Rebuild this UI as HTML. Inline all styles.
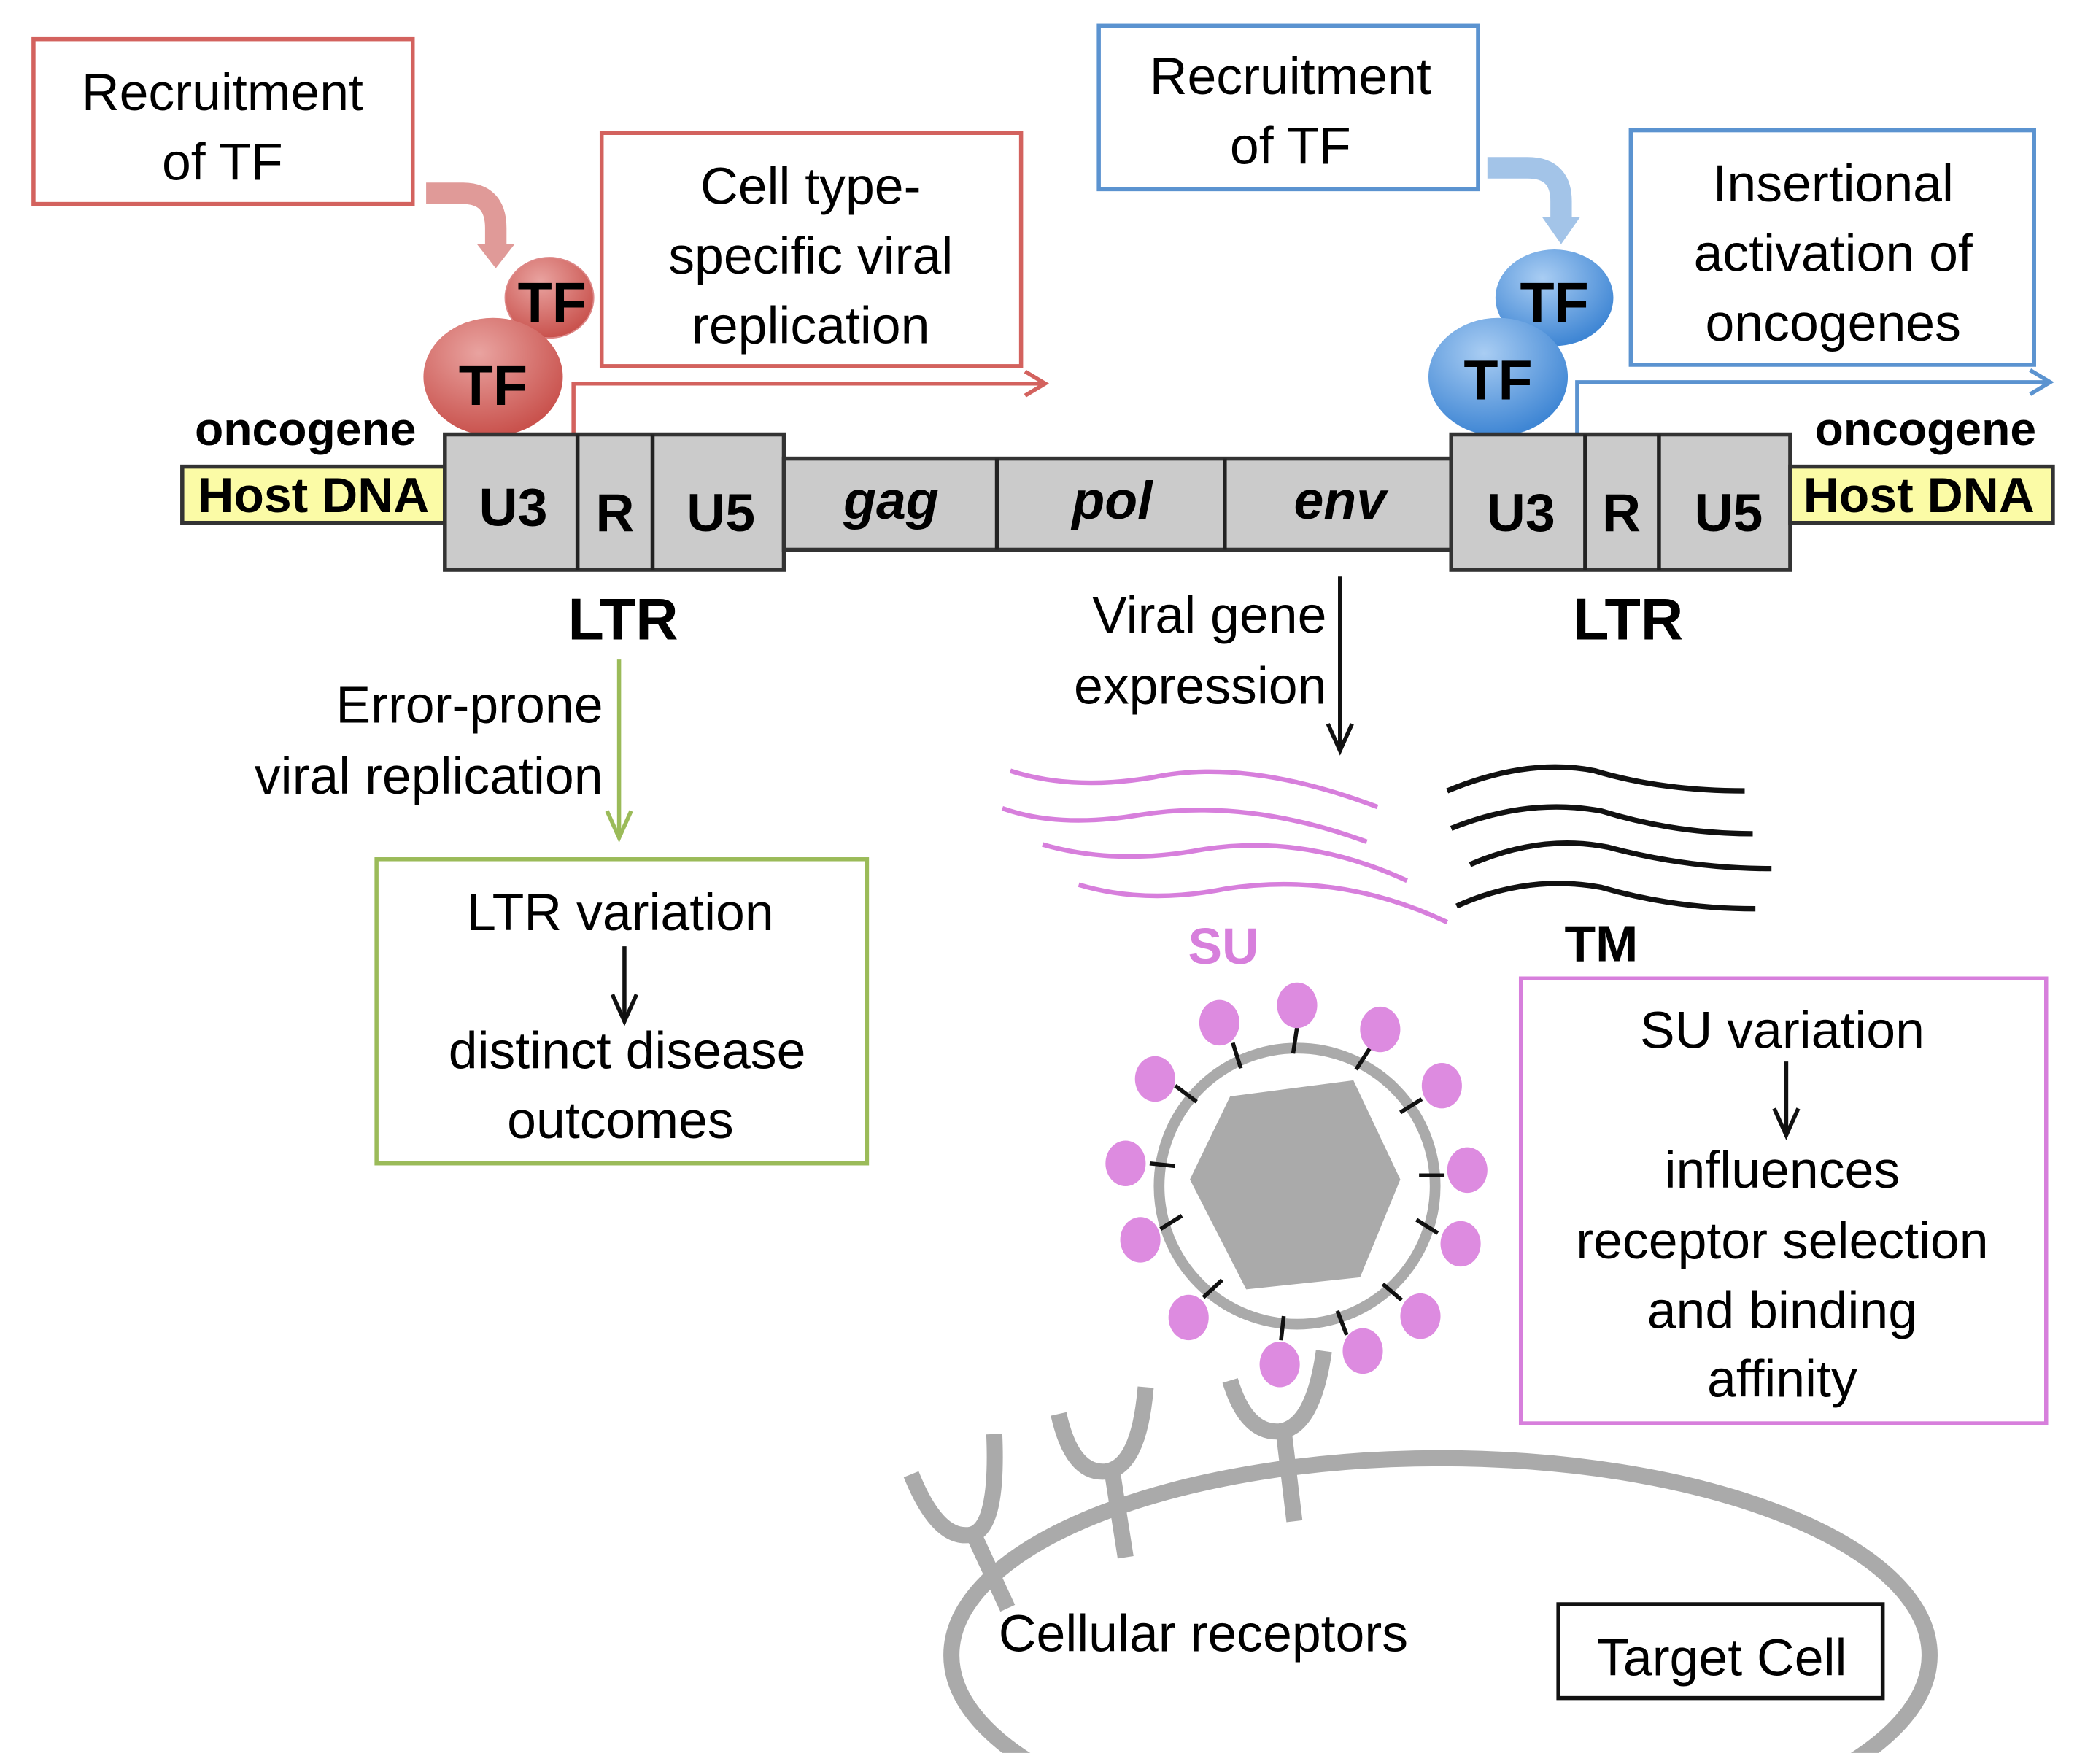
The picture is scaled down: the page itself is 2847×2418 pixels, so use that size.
<!DOCTYPE html>
<html><head><meta charset="utf-8"><style>html,body{margin:0;padding:0;background:#fff;width:2847px;height:2418px;overflow:hidden}svg{display:block}</style></head>
<body>
<svg width="2847" height="2418" viewBox="0 0 1550 1316" xmlns="http://www.w3.org/2000/svg" font-family="Liberation Sans, Arial, sans-serif">
<defs>
<radialGradient id="rg" cx="40%" cy="30%" r="70%"><stop offset="0" stop-color="#e9a3a0"/><stop offset="1" stop-color="#c9524d"/></radialGradient>
<radialGradient id="bg" cx="40%" cy="30%" r="70%"><stop offset="0" stop-color="#a9cdf3"/><stop offset="1" stop-color="#3f86d4"/></radialGradient>
<clipPath id="cc"><rect x="0" y="0" width="1550" height="1308"/></clipPath>
</defs>
<rect width="1550" height="1316" fill="#fff"/>

<rect x="25" y="29" width="283" height="123" fill="#fff" stroke="#d3625e" stroke-width="3"/>
<text x="166" y="82" font-size="39" text-anchor="middle">Recruitment</text>
<text x="166" y="134" font-size="39" text-anchor="middle">of  TF</text>
<path d="M318,144 L345,144 Q370,144 370,170 L370,185" fill="none" stroke="#e09a98" stroke-width="16"/>
<path d="M356,182 L384,182 L370,200 Z" fill="#e09a98"/>
<rect x="449" y="99" width="313" height="174" fill="#fff" stroke="#d3625e" stroke-width="3"/>
<text x="605" y="152" font-size="39" text-anchor="middle">Cell type-</text>
<text x="605" y="204" font-size="39" text-anchor="middle">specific viral</text>
<text x="605" y="256" font-size="39" text-anchor="middle">replication</text>
<path d="M428,323 L428,286 L778,286" fill="none" stroke="#d3625e" stroke-width="3"/>
<path d="M765,277 L780,286 L765,295" fill="none" stroke="#d3625e" stroke-width="3"/>
<ellipse cx="410" cy="222" rx="33" ry="30" fill="url(#rg)" stroke="#d88" stroke-width="1"/>
<text x="412" y="240" font-size="42" font-weight="bold" text-anchor="middle">TF</text>
<ellipse cx="368" cy="281" rx="52" ry="44" fill="url(#rg)"/>
<text x="368" y="302" font-size="42" font-weight="bold" text-anchor="middle">TF</text>

<rect x="820" y="19" width="283" height="122" fill="#fff" stroke="#5b93d0" stroke-width="3"/>
<text x="963" y="70" font-size="39" text-anchor="middle">Recruitment</text>
<text x="963" y="122" font-size="39" text-anchor="middle">of TF</text>
<path d="M1110,125 L1140,125 Q1165,125 1165,150 L1165,165" fill="none" stroke="#a3c4e8" stroke-width="16"/>
<path d="M1151,162 L1179,162 L1165,182 Z" fill="#a3c4e8"/>
<rect x="1217" y="97" width="301" height="175" fill="#fff" stroke="#5b93d0" stroke-width="3"/>
<text x="1368" y="150" font-size="39" text-anchor="middle">Insertional</text>
<text x="1368" y="202" font-size="39" text-anchor="middle">activation of</text>
<text x="1368" y="254" font-size="39" text-anchor="middle">oncogenes</text>
<path d="M1177,323 L1177,285 L1528,285" fill="none" stroke="#5b93d0" stroke-width="3"/>
<path d="M1515,276 L1530,285 L1515,294" fill="none" stroke="#5b93d0" stroke-width="3"/>
<ellipse cx="1160" cy="222" rx="44" ry="36" fill="url(#bg)"/>
<text x="1160" y="240" font-size="42" font-weight="bold" text-anchor="middle">TF</text>
<ellipse cx="1118" cy="281" rx="52" ry="44" fill="url(#bg)"/>
<text x="1118" y="298" font-size="42" font-weight="bold" text-anchor="middle">TF</text>

<text x="228" y="332" font-size="35" font-weight="bold" text-anchor="middle">oncogene</text>
<rect x="136" y="348" width="196" height="42" fill="#fbfba6" stroke="#333" stroke-width="3"/>
<text x="234" y="382" font-size="37" font-weight="bold" text-anchor="middle">Host DNA</text>
<rect x="332" y="324" width="253" height="101" fill="#cbcbcb" stroke="#333" stroke-width="3"/>
<line x1="431" y1="324" x2="431" y2="425" stroke="#222" stroke-width="3"/>
<line x1="487" y1="324" x2="487" y2="425" stroke="#222" stroke-width="3"/>
<text x="383" y="392" font-size="40" font-weight="bold" text-anchor="middle">U3</text>
<text x="459" y="396" font-size="40" font-weight="bold" text-anchor="middle">R</text>
<text x="538" y="396" font-size="40" font-weight="bold" text-anchor="middle">U5</text>
<rect x="585" y="342" width="498" height="68" fill="#cbcbcb" stroke="#333" stroke-width="3"/>
<line x1="744" y1="342" x2="744" y2="410" stroke="#222" stroke-width="3"/>
<line x1="914" y1="342" x2="914" y2="410" stroke="#222" stroke-width="3"/>
<text x="665" y="387" font-size="40" font-weight="bold" font-style="italic" text-anchor="middle">gag</text>
<text x="830" y="387" font-size="40" font-weight="bold" font-style="italic" text-anchor="middle">pol</text>
<text x="1000" y="387" font-size="40" font-weight="bold" font-style="italic" text-anchor="middle">env</text>
<rect x="1083" y="324" width="253" height="101" fill="#cbcbcb" stroke="#333" stroke-width="3"/>
<line x1="1183" y1="324" x2="1183" y2="425" stroke="#222" stroke-width="3"/>
<line x1="1238" y1="324" x2="1238" y2="425" stroke="#222" stroke-width="3"/>
<text x="1135" y="396" font-size="40" font-weight="bold" text-anchor="middle">U3</text>
<text x="1210" y="396" font-size="40" font-weight="bold" text-anchor="middle">R</text>
<text x="1290" y="396" font-size="40" font-weight="bold" text-anchor="middle">U5</text>
<text x="1437" y="332" font-size="35" font-weight="bold" text-anchor="middle">oncogene</text>
<rect x="1336" y="348" width="196" height="42" fill="#fbfba6" stroke="#333" stroke-width="3"/>
<text x="1432" y="382" font-size="37" font-weight="bold" text-anchor="middle">Host DNA</text>
<text x="465" y="477" font-size="44" font-weight="bold" text-anchor="middle">LTR</text>
<text x="1215" y="477" font-size="44" font-weight="bold" text-anchor="middle">LTR</text>

<text x="990" y="472" font-size="39" text-anchor="end">Viral gene</text>
<text x="990" y="525" font-size="39" text-anchor="end">expression</text>
<line x1="1000" y1="430" x2="1000" y2="558" stroke="#111" stroke-width="3"/>
<path d="M991,540 L1000,560 L1009,540" fill="none" stroke="#111" stroke-width="3"/>

<text x="450" y="539" font-size="39" text-anchor="end">Error-prone</text>
<text x="450" y="592" font-size="39" text-anchor="end">viral replication</text>
<line x1="462" y1="492" x2="462" y2="624" stroke="#9bbb59" stroke-width="3"/>
<path d="M453,605 L462,625 L471,605" fill="none" stroke="#9bbb59" stroke-width="3"/>
<rect x="281" y="641" width="366" height="227" fill="#fff" stroke="#9bbb59" stroke-width="3"/>
<text x="463" y="694" font-size="39" text-anchor="middle">LTR variation</text>
<line x1="466" y1="706" x2="466" y2="760" stroke="#111" stroke-width="3"/>
<path d="M457,742 L466,762 L475,742" fill="none" stroke="#111" stroke-width="3"/>
<text x="468" y="797" font-size="39" text-anchor="middle">distinct disease</text>
<text x="463" y="849" font-size="39" text-anchor="middle">outcomes</text>

<g fill="none" stroke="#d77fdc" stroke-width="3.5">
<path d="M754,575 Q800,590 860,580 Q930,565 1028,602"/>
<path d="M748,603 Q790,618 850,608 Q930,595 1020,628"/>
<path d="M778,630 Q830,645 890,635 Q970,620 1050,657"/>
<path d="M805,660 Q855,675 915,663 Q1000,650 1080,688"/>
</g>
<g fill="none" stroke="#111" stroke-width="4">
<path d="M1080,590 Q1140,565 1190,575 Q1240,590 1302,590"/>
<path d="M1083,618 Q1140,595 1195,605 Q1250,622 1308,622"/>
<path d="M1097,645 Q1150,622 1200,632 Q1260,648 1322,648"/>
<path d="M1087,676 Q1140,652 1195,662 Q1250,678 1310,678"/>
</g>
<text x="913" y="719" font-size="38" font-weight="bold" fill="#d77fdc" text-anchor="middle">SU</text>
<text x="1195" y="717" font-size="38" font-weight="bold" text-anchor="middle">TM</text>

<circle cx="968" cy="885" r="103" fill="#fff" stroke="#aaa" stroke-width="8"/>
<path d="M918,818 L1010,806 L1045,880 L1015,953 L930,962 L888,880 Z" fill="#aaa"/>
<g stroke="#111" stroke-width="3">
<line x1="920" y1="778" x2="926" y2="797"/><line x1="968" y1="766" x2="965" y2="786"/>
<line x1="1023" y1="781" x2="1012" y2="798"/><line x1="877" y1="810" x2="893" y2="822"/>
<line x1="1061" y1="820" x2="1045" y2="830"/><line x1="858" y1="868" x2="877" y2="870"/>
<line x1="1078" y1="877" x2="1059" y2="877"/><line x1="866" y1="917" x2="882" y2="907"/>
<line x1="1073" y1="920" x2="1057" y2="910"/><line x1="898" y1="968" x2="912" y2="955"/>
<line x1="1046" y1="970" x2="1032" y2="958"/><line x1="956" y1="1000" x2="958" y2="982"/>
<line x1="1005" y1="996" x2="998" y2="978"/>
</g>
<g fill="#dd8be0">
<ellipse cx="910" cy="763" rx="15" ry="17"/><ellipse cx="968" cy="750" rx="15" ry="17"/>
<ellipse cx="1030" cy="768" rx="15" ry="17"/><ellipse cx="862" cy="805" rx="15" ry="17"/>
<ellipse cx="1076" cy="810" rx="15" ry="17"/><ellipse cx="840" cy="868" rx="15" ry="17"/>
<ellipse cx="1095" cy="873" rx="15" ry="17"/><ellipse cx="851" cy="925" rx="15" ry="17"/>
<ellipse cx="1090" cy="928" rx="15" ry="17"/><ellipse cx="887" cy="983" rx="15" ry="17"/>
<ellipse cx="1060" cy="982" rx="15" ry="17"/><ellipse cx="955" cy="1018" rx="15" ry="17"/>
<ellipse cx="1017" cy="1008" rx="15" ry="17"/>
</g>

<rect x="1135" y="730" width="392" height="332" fill="#fff" stroke="#d77fdc" stroke-width="3"/>
<text x="1330" y="782" font-size="39" text-anchor="middle">SU variation</text>
<line x1="1333" y1="792" x2="1333" y2="845" stroke="#111" stroke-width="3"/>
<path d="M1324,827 L1333,847 L1342,827" fill="none" stroke="#111" stroke-width="3"/>
<text x="1330" y="886" font-size="39" text-anchor="middle">influences</text>
<text x="1330" y="939" font-size="39" text-anchor="middle">receptor selection</text>
<text x="1330" y="991" font-size="39" text-anchor="middle">and binding</text>
<text x="1330" y="1042" font-size="39" text-anchor="middle">affinity</text>

<g clip-path="url(#cc)">
<ellipse cx="1075" cy="1235" rx="365" ry="147" fill="none" stroke="#aaa" stroke-width="12"/>
</g>
<g fill="none" stroke="#aaa" stroke-width="12">
<path d="M680,1100 Q700,1150 725,1145 Q745,1140 742,1070"/>
<line x1="728" y1="1148" x2="752" y2="1200"/>
<path d="M790,1055 Q800,1100 825,1098 Q850,1095 855,1035"/>
<line x1="830" y1="1098" x2="840" y2="1162"/>
<path d="M918,1030 Q930,1070 955,1068 Q980,1065 988,1008"/>
<line x1="958" y1="1068" x2="966" y2="1135"/>
</g>
<text x="898" y="1232" font-size="39" text-anchor="middle">Cellular receptors</text>
<rect x="1163" y="1197" width="242" height="70" fill="#fff" stroke="#111" stroke-width="3"/>
<text x="1285" y="1250" font-size="39" text-anchor="middle">Target Cell</text>
</svg>
</body></html>
